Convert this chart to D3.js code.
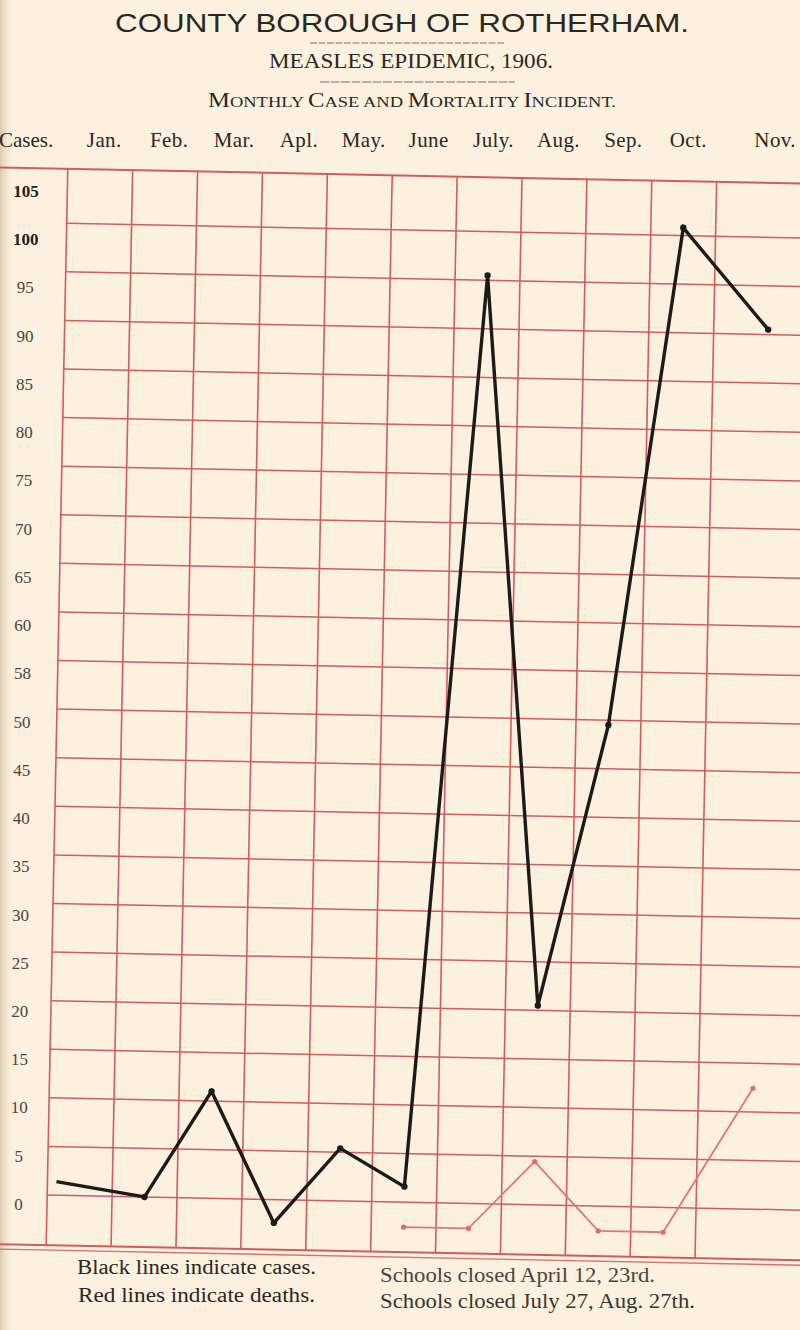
<!DOCTYPE html>
<html><head><meta charset="utf-8">
<script src="https://cdn.jsdelivr.net/npm/d3@7"></script>
<style>body{margin:0;background:#fcf0df;} svg{display:block}</style>
</head><body><svg id="c" width="800" height="1330"></svg>
<script>
// ---- data ----
const months = ["Jan.","Feb.","Mar.","Apl.","May.","June","July.","Aug.","Sep.","Oct.","Nov."];
const cases = [1.4, 0, 11, -2.4, 5.4, 1.6, 95.5, 20.5, 49.5, 100.8, 90.5];
const deathMonths = ["June","July.","Aug.","Sep.","Oct.","Nov."];
const deaths = [0, 0, 7, 0, 0, 15];
const yTicks = [105,100,95,90,85,80,75,70,65,60,55,50,45,40,35,30,25,20,15,10,5,0];
const yTickLabels = ["105","100","95","90","85","80","75","70","65","60","58","50","45","40","35","30","25","20","15","10","5","0"];
const gridValues = [0,5,10,15,20,25,30,35,40,45,50,55,60,65,70,75,80,85,90,95,100];

// ---- layout ----
const W = 800, H = 1330;
const cx = 420, cy = 710, angDeg = 1.15, ang = angDeg * Math.PI / 180;
function rot(px, py) {
  const c = Math.cos(ang), s = Math.sin(ang);
  return [cx + (px - cx) * c - (py - cy) * s, cy + (px - cx) * s + (py - cy) * c];
}
const plotLeft = 57, colW = 64.9, plotRight = 815, farRight = 850;
const x = d3.scaleLinear().domain([0, 10]).range([plotLeft, plotLeft + 10 * colW]);
const edge = i => i <= 10 ? x(i) : plotRight;
const center = i => (edge(i) + edge(i + 1)) / 2;
const y = d3.scaleLinear().domain([0, 100]).range([1202.4, 230.4]);
const topVal = 105.6, botVal = -5.15, deathZero = -2.56;
const labelY = d3.scaleLinear().domain([0, 105]).range([1204, 191]);

const red = "#d25b60", ink = "#2b2723";
const serif = "'Liberation Serif','DejaVu Serif',serif";

const svg = d3.select("#c");
const defs = svg.append("defs");
const lg = defs.append("linearGradient").attr("id", "edge").attr("x1", "0").attr("x2", "1");
lg.append("stop").attr("offset", "0").attr("stop-color", "#d8c7ad");
lg.append("stop").attr("offset", "1").attr("stop-color", "#fcf0df").attr("stop-opacity", 0);
svg.append("rect").attr("width", W).attr("height", H).attr("fill", "#fcf0df");
svg.append("rect").attr("width", 14).attr("height", H).attr("fill", "url(#edge)");

// ---- titles ----
svg.append("text").attr("x", 115).attr("y", 32).attr("textLength", 574).attr("lengthAdjust", "spacingAndGlyphs")
  .attr("font-family", "'Liberation Sans','DejaVu Sans',sans-serif").attr("font-size", 26.5)
  .attr("fill", ink).text("COUNTY BOROUGH OF ROTHERHAM.");
svg.append("line").attr("x1", 310).attr("x2", 505).attr("y1", 43).attr("y2", 43)
  .attr("stroke", "#7a7067").attr("stroke-width", 1.2).attr("stroke-dasharray", "7,1.5");
svg.append("text").attr("x", 269).attr("y", 68).attr("textLength", 284).attr("lengthAdjust", "spacingAndGlyphs")
  .attr("font-family", serif).attr("font-size", 22).attr("fill", ink).text("MEASLES EPIDEMIC, 1906.");
svg.append("line").attr("x1", 320).attr("x2", 515).attr("y1", 82).attr("y2", 82)
  .attr("stroke", "#7a7067").attr("stroke-width", 1.2).attr("stroke-dasharray", "9,1.5");
const sub = svg.append("text").attr("x", 208).attr("y", 107).attr("textLength", 408).attr("lengthAdjust", "spacingAndGlyphs")
  .attr("font-family", serif).attr("fill", ink);
["Monthly", "Case", "and", "Mortality", "Incident."].forEach((w, k) => {
  const first = w[0], rest = w.slice(1).toUpperCase();
  const big = (w !== "and");
  if (k > 0) sub.append("tspan").attr("font-size", 15).text(" ");
  sub.append("tspan").attr("font-size", big ? 20 : 15).text(big ? first : first.toUpperCase());
  sub.append("tspan").attr("font-size", 15).text(rest);
});

// ---- month header ----
svg.append("text").attr("x", -1).attr("y", 147).attr("font-family", serif).attr("font-size", 21)
  .attr("fill", ink).text("Cases.");
svg.selectAll("text.month").data(months).join("text").attr("class", "month")
  .attr("x", (d, i) => rot(center(i), y(topVal))[0] + 4).attr("y", 147)
  .attr("text-anchor", "middle").attr("font-family", serif).attr("font-size", 21)
  .attr("letter-spacing", 0.4).attr("fill", ink).text(d => d);

// ---- y tick labels ----
svg.selectAll("text.yt").data(yTicks).join("text").attr("class", "yt")
  .attr("x", d => 26 - (labelY(d) - 191) * 0.0075).attr("y", d => labelY(d)).attr("dy", "0.35em")
  .attr("text-anchor", "middle").attr("font-family", serif).attr("font-size", 17)
  .attr("font-weight", (d, i) => i < 2 ? "bold" : "normal")
  .attr("fill", (d, i) => i < 2 ? "#221e1a" : "#4a443d").text((d, i) => yTickLabels[i]);

// ---- grid (rotated like the printed sheet) ----
const g = svg.append("g").attr("transform", `rotate(${angDeg},${cx},${cy})`);
g.selectAll("line.h").data(gridValues).join("line").attr("class", "h")
  .attr("x1", plotLeft).attr("x2", farRight).attr("y1", d => y(d)).attr("y2", d => y(d))
  .attr("stroke", red).attr("stroke-width", 1.5);
g.selectAll("line.v").data(d3.range(0, 11)).join("line").attr("class", "v")
  .attr("x1", d => edge(d)).attr("x2", d => edge(d)).attr("y1", y(topVal)).attr("y2", y(botVal))
  .attr("stroke", red).attr("stroke-width", 1.6);
g.append("line").attr("x1", -40).attr("x2", farRight).attr("y1", y(topVal)).attr("y2", y(topVal))
  .attr("stroke", red).attr("stroke-width", 2);
g.append("line").attr("x1", -40).attr("x2", farRight).attr("y1", y(botVal)).attr("y2", y(botVal))
  .attr("stroke", red).attr("stroke-width", 2);
g.append("line").attr("x1", -40).attr("x2", farRight).attr("y1", y(botVal) + 5).attr("y2", y(botVal) + 5)
  .attr("stroke", red).attr("stroke-width", 1.4).attr("opacity", 0.85);

// ---- deaths (red) ----
const dPts = deathMonths.map((m, j) => [center(months.indexOf(m)), y(deathZero + deaths[j])]);
g.append("path").attr("d", d3.line()(dPts)).attr("fill", "none")
  .attr("stroke", "#e07476").attr("stroke-width", 1.8);
g.selectAll("circle.dd").data(dPts).join("circle").attr("class", "dd")
  .attr("cx", d => d[0]).attr("cy", d => d[1]).attr("r", 2.6).attr("fill", "#e06a6c");

// ---- cases (black) ----
const cPts = cases.map((v, i) => [i === 0 ? edge(0) + 9 : center(i), y(v)]);
g.append("path").attr("d", d3.line()(cPts)).attr("fill", "none")
  .attr("stroke", "#1d1b19").attr("stroke-width", 3.4).attr("stroke-linejoin", "miter");
g.selectAll("circle.cd").data(cPts.slice(1)).join("circle").attr("class", "cd")
  .attr("cx", d => d[0]).attr("cy", d => d[1]).attr("r", 3.2).attr("fill", "#1d1b19");

// ---- footer ----
const foot = [
  {t: "Black lines indicate cases.", x: 77, y: 1274, w: 239, c: "#2b2723"},
  {t: "Red lines indicate deaths.", x: 78, y: 1302, w: 237, c: "#2b2723"},
  {t: "Schools closed April 12, 23rd.", x: 380, y: 1282, w: 275, c: "#4a443e"},
  {t: "Schools closed July 27, Aug. 27th.", x: 380, y: 1308, w: 315, c: "#3a352f"}
];
svg.selectAll("text.ft").data(foot).join("text").attr("class", "ft")
  .attr("x", d => d.x).attr("y", d => d.y).attr("textLength", d => d.w).attr("lengthAdjust", "spacingAndGlyphs")
  .attr("font-family", serif).attr("font-size", 20).attr("fill", d => d.c).text(d => d.t);
</script>
</body></html>
